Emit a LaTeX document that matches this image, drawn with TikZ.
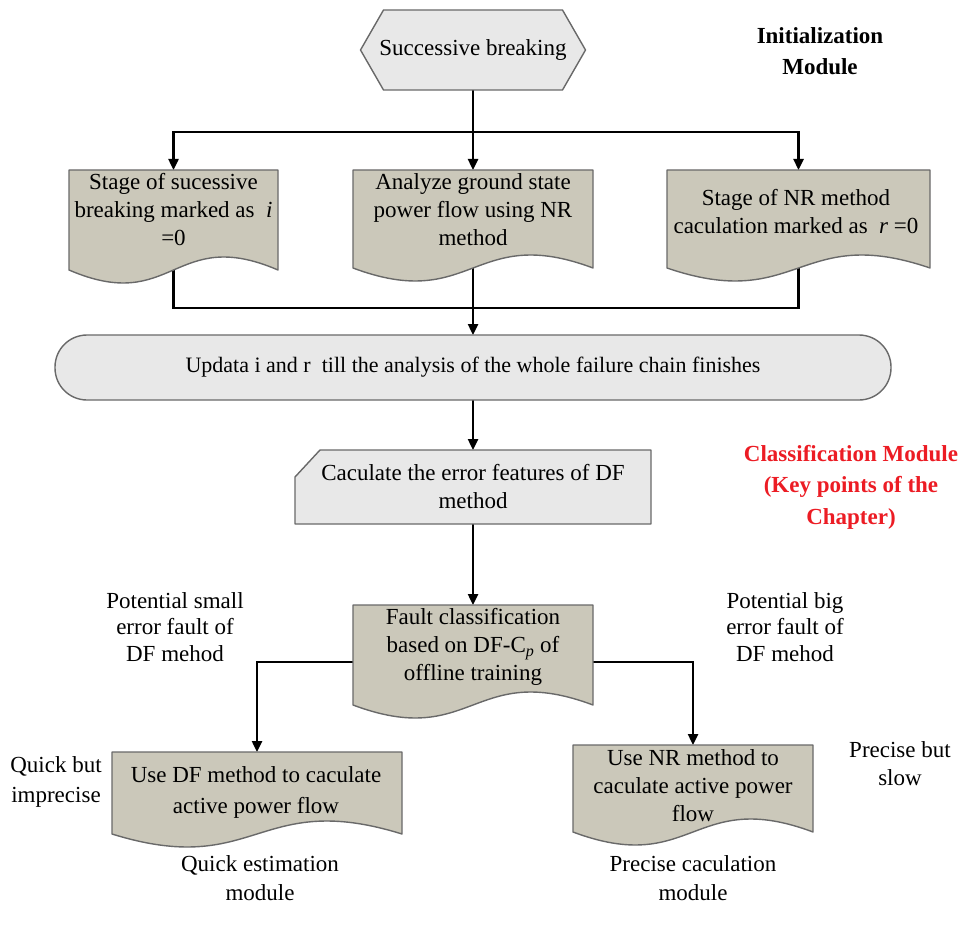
\documentclass[tikz,border=0pt]{standalone}
\usepackage{fontspec}
\setmainfont{Liberation Serif}
\usetikzlibrary{arrows.meta,calc}
\pgfdeclarelayer{back}
\pgfsetlayers{back,main}

\definecolor{docfill}{RGB}{203,200,186}
\definecolor{lightfill}{RGB}{232,232,232}
\definecolor{edgegray}{RGB}{105,105,105}
\definecolor{hotred}{RGB}{236,28,36}

\tikzset{
  frame/.style={inner sep=0pt, outer sep=0pt, minimum width=#1},
  shapeline/.style={draw=edgegray, line width=1.4pt, line join=round},
  txt/.style={align=center, inner sep=0pt, font=\fontsize{23}{28}\selectfont},
  boldtxt/.style={align=center, inner sep=0pt, font=\fontsize{23}{31.5}\selectfont\bfseries},
  conn/.style={draw=black, line width=2.4pt},
  arr/.style={conn, -{Triangle[length=11pt,width=10pt]}},
}

% document symbol: flat top, wavy bottom
\newcommand\docshape[1]{%
  \draw[shapeline, fill=docfill] (#1.north west) -- (#1.north east) -- (#1.south east)
    .. controls ($(#1.south)+(0,-45)$) and ($(#1.south)+(0,45)$) .. (#1.south west) -- cycle;}

\begin{document}
\begin{tikzpicture}[x=1pt,y=-1pt]
\useasboundingbox (0,0) rectangle (964,936);

% ---------- initialization module ----------
\node[frame=225pt, minimum height=80pt] (hex) at (473,50) {};
\draw[shapeline, fill=lightfill]
  ($(hex.north west)+(23,0)$) -- ($(hex.north east)+(-23,0)$) -- (hex.east)
  -- ($(hex.south east)+(-23,0)$) -- ($(hex.south west)+(23,0)$) -- (hex.west) -- cycle;
\node[txt] at (hex.center) {Successive breaking};

\node[boldtxt] (initlbl) at (820,51) {Initialization\\Module};

\node[frame=209pt, minimum height=100pt] (b1) at (173.5,220) {};
\node[frame=240pt, minimum height=98pt] (b2) at (473,219) {};
\node[frame=263pt, minimum height=98pt] (b3) at (798.5,219) {};
\docshape{b1}
\docshape{b2}
\docshape{b3}
\node[txt] at (173.5,210) {Stage of sucessive\\breaking marked as~ \textit{i}\\=0};
\node[txt] at (473,210) {Analyze ground state\\power flow using NR\\method};
\node[txt] at (796,212) {Stage of NR method\\caculation marked as~ \textit{r} =0};

\node[frame=836pt, minimum height=65pt, shapeline, fill=lightfill, rounded corners=32pt] (bar) at (473,367.5) {};
\node[font=\fontsize{22}{26}\selectfont, inner sep=0pt] at (bar.center) {Updata i and r~ till the analysis of the whole failure chain finishes};

% ---------- classification module ----------
\node[frame=356pt, minimum height=74pt] (card) at (473,487) {};
\draw[shapeline, fill=lightfill]
  ($(card.north west)+(25,0)$) -- (card.north east) -- (card.south east)
  -- (card.south west) -- ($(card.north west)+(0,27)$) -- cycle;
\node[txt] at (473,487) {Caculate the error features of DF\\method};

\node[boldtxt, text=hotred] (clslbl) at (851,487) {Classification Module\\(Key points of the\\Chapter)};

\node[frame=240pt, minimum height=100pt] (fault) at (473,655) {};
\docshape{fault}
\node[txt] at (473,647) {Fault classification\\based on DF-C\textsubscript{\textit{p}} of\\offline training};

\node[txt, font=\fontsize{23}{26.5}\selectfont] at (175,627) {Potential small\\error fault of\\DF mehod};
\node[txt, font=\fontsize{23}{26.5}\selectfont] at (785,627) {Potential big\\error fault of\\DF mehod};

% ---------- estimation / calculation modules ----------
\node[frame=290pt, minimum height=82pt] (bl) at (257,793) {};
\node[frame=240pt, minimum height=87pt] (br) at (693,788.5) {};
\docshape{bl}
\docshape{br}
\node[txt, font=\fontsize{23}{31}\selectfont] at (256,792) {Use DF method to caculate\\active power flow};
\node[txt] at (693,786) {Use NR method to\\caculate active power\\flow};

\node[txt, font=\fontsize{23}{30}\selectfont] at (56,782) {Quick but\\imprecise};
\node[txt] at (900,764) {Precise but\\slow};
\node[txt, font=\fontsize{23}{29.5}\selectfont] at (260,878) {Quick estimation\\module};
\node[txt, font=\fontsize{23}{29.5}\selectfont] at (693,878) {Precise caculation\\module};

% ---------- connectors ----------
\coordinate (jt) at (473,132);
\coordinate (jb) at (473,308);
\begin{pgfonlayer}{back}
  \draw[conn] (hex.south) -- (jt);
  \draw[arr] (jt) -| (b1.north);
  \draw[arr] (jt) -| (b3.north);
  \draw[arr] (jt) -- (b2.north);
  \draw[conn] (b1.south) |- (jb);
  \draw[conn] (b3.south) |- (jb);
  \draw[conn] (b2.south) -- (jb);
  \draw[arr] (jb) -- (bar.north);
  \draw[arr] (bar.south) -- (card.north);
  \draw[arr] (card.south) -- (fault.north);
  \draw[arr] ($(fault.west)+(0,7)$) -| (bl.north);
  \draw[arr] ($(fault.east)+(0,7)$) -| (br.north);
\end{pgfonlayer}
\end{tikzpicture}
\end{document}
